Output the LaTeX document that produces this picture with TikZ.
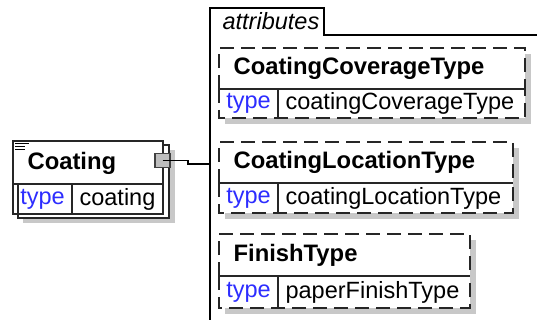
\documentclass[tikz,border=0pt]{standalone}
\usepackage{fontspec}
\setmainfont{Liberation Sans}
\usetikzlibrary{positioning,calc}

\definecolor{typeblue}{RGB}{45,45,255}
\definecolor{shadowgray}{RGB}{200,200,200}
\definecolor{conngray}{RGB}{190,190,190}

\begin{document}
\begin{tikzpicture}[x=1pt, y=-1pt, line width=1.2pt]
    \tikzset{
        cell/.style={inner sep=0pt, outer sep=0pt, anchor=north west},
        boxline/.style={line width=1.3pt, black!85},
        dashline/.style={line width=1.8pt, dash pattern=on 14pt off 7pt, black!85},
        headtext/.style={font=\fontsize{23.8}{28}\selectfont\bfseries, anchor=west, inner sep=0pt},
        typetext/.style={font=\fontsize{23.5}{28}\selectfont, text=typeblue},
        valtext/.style={font=\fontsize{23.5}{28}\selectfont, anchor=west, inner sep=0pt}
    }
    \useasboundingbox (0,0) rectangle (537,320);

    % attributes group
    \draw[line width=1.5pt] (210,322) -- (210,8) -- (324,8) -- (324,35) -- (538,35);
    \node[font=\fontsize{23.5}{28}\selectfont\itshape, anchor=west, inner sep=0pt] (attrlabel) at (222,21.5) {attributes};
    \coordinate (attrin) at (210,164);

    % CoatingCoverageType
    \fill[shadowgray] (225,54) rectangle (531,124);
    \node[cell, fill=white, minimum width=306pt, minimum height=41pt] (covh) at (219,48) {};
    \node[cell, fill=white, minimum width=59pt, minimum height=29pt, typetext] (covt) at (covh.south west) {type};
    \node[cell, fill=white, minimum width=247pt, minimum height=29pt] (covv) at (covt.north east) {};
    \draw[dashline] (covh.south west) |- (covh.north east) -- (covh.south east);
    \draw[boxline] (covh.south west) -- (covh.south east);
    \draw[dashline] (covt.north west) |- (covv.south east) -- (covv.north east);
    \draw[boxline] (covt.north east) -- (covt.south east);
    \node[headtext] (covname) at ([shift={(14,0)}]covh.west) {CoatingCoverageType};
    \node[valtext] (covval) at ([shift={(7,0)}]covv.west) {coatingCoverageType};

    % CoatingLocationType
    \fill[shadowgray] (225,148) rectangle (519,219);
    \node[cell, fill=white, minimum width=294pt, minimum height=41pt] (loch) at (219,142) {};
    \node[cell, fill=white, minimum width=59pt, minimum height=30pt, typetext] (loct) at (loch.south west) {type};
    \node[cell, fill=white, minimum width=235pt, minimum height=30pt] (locv) at (loct.north east) {};
    \draw[dashline] (loch.south west) |- (loch.north east) -- (loch.south east);
    \draw[boxline] (loch.south west) -- (loch.south east);
    \draw[dashline] (loct.north west) |- (locv.south east) -- (locv.north east);
    \draw[boxline] (loct.north east) -- (loct.south east);
    \node[headtext] (locname) at ([shift={(14,0)}]loch.west) {CoatingLocationType};
    \node[valtext] (locval) at ([shift={(7,0)}]locv.west) {coatingLocationType};

    % FinishType
    \fill[shadowgray] (225,240) rectangle (476,314);
    \node[cell, fill=white, minimum width=251pt, minimum height=42pt] (finh) at (219,234) {};
    \node[cell, fill=white, minimum width=59pt, minimum height=32pt, typetext] (fint) at (finh.south west) {type};
    \node[cell, fill=white, minimum width=192pt, minimum height=32pt] (finv) at (fint.north east) {};
    \draw[dashline] (finh.south west) |- (finh.north east) -- (finh.south east);
    \draw[boxline] (finh.south west) -- (finh.south east);
    \draw[dashline] (fint.north west) |- (finv.south east) -- (finv.north east);
    \draw[boxline] (fint.north east) -- (fint.south east);
    \node[headtext] (finname) at ([shift={(14,0)}]finh.west) {FinishType};
    \node[valtext] (finval) at ([shift={(7,0)}]finv.west) {paperFinishType};

    % Coating element
    \fill[shadowgray] (23,150) rectangle (175,223);
    \draw[boxline, fill=white] (18,145) rectangle (169,218);
    \node[cell, draw, boxline, fill=white, minimum width=150pt, minimum height=43pt] (coath) at (13,141) {};
    \node[cell, draw, boxline, minimum width=59pt, minimum height=30pt, typetext] (coatt) at (coath.south west) {type};
    \node[cell, draw, boxline, minimum width=91pt, minimum height=30pt] (coatv) at (coatt.north east) {};
    \draw[line width=1pt] (15,143.5) -- (29,143.5) (15,146.5) -- (25,146.5) (15,149.5) -- (25,149.5);
    \node[headtext] (coatname) at (27,163) {Coating};
    \node[valtext] (coatval) at ([shift={(7,0)}]coatv.west) {coating};

    % connector
    \node[draw=black!75, fill=conngray, line width=1.2pt, minimum width=15pt, minimum height=14pt, inner sep=0pt] (conn) at (162.5,160.5) {};
    \coordinate (bend) at (188,160.5);
    \draw[line width=1.2pt] (conn.center) -- (bend) |- (attrin);
\end{tikzpicture}
\end{document}
